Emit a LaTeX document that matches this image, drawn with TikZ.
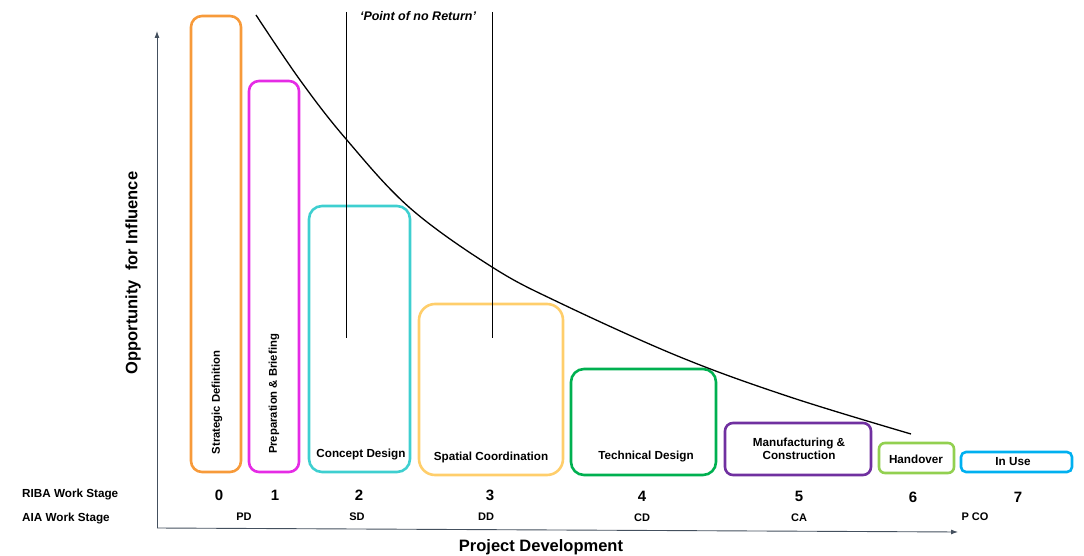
\documentclass[tikz,border=0pt]{standalone}
\usepackage{fontspec}
\setmainfont{Liberation Sans}
\usetikzlibrary{arrows.meta}
\definecolor{cOrange}{HTML}{F79A3A}
\definecolor{cMagenta}{HTML}{E52BE5}
\definecolor{cCyan}{HTML}{3ECFD0}
\definecolor{cYellow}{HTML}{FFCE6B}
\definecolor{cGreen}{HTML}{00B050}
\definecolor{cPurple}{HTML}{7030A0}
\definecolor{cLgreen}{HTML}{92D050}
\definecolor{cBlue}{HTML}{00B0F0}
\definecolor{cAxis}{HTML}{44505E}
\begin{document}
\begin{tikzpicture}[x=1pt,y=-1pt,
  box/.style={draw=#1, line width=2.6pt, inner sep=0pt, fill=none},
  lbl/.style={font=\fontsize{11.7}{13.5}\selectfont\bfseries, inner sep=0pt, align=center},
  rlbl/.style={font=\fontsize{11.3}{13.5}\selectfont\bfseries, inner sep=0pt, rotate=90},
  rowlbl/.style={font=\fontsize{11.7}{13}\selectfont\bfseries, inner sep=0pt, anchor=west},
  small/.style={font=\fontsize{11}{12}\selectfont\bfseries, inner sep=0pt},
  num/.style={font=\fontsize{15}{17}\selectfont\bfseries, inner sep=0pt},
  big/.style={font=\fontsize{16.5}{19}\selectfont\bfseries, inner sep=0pt},
  axis/.style={draw=cAxis, line width=0.9pt},
  vline/.style={draw=black, line width=1pt}]
\useasboundingbox (0,0) rectangle (1084,556);
% boxes
\node[box=cOrange, rounded corners=11pt, minimum width=50pt, minimum height=456pt] (b0) at (216,244) {};
\node[box=cMagenta, rounded corners=10pt, minimum width=50pt, minimum height=391pt] (b1) at (274,276.5) {};
\node[box=cCyan, rounded corners=13pt, minimum width=101pt, minimum height=266pt] (b2) at (359.5,339) {};
\node[box=cYellow, rounded corners=16pt, minimum width=144pt, minimum height=171pt] (b3) at (491,389.5) {};
\node[box=cGreen, rounded corners=13pt, minimum width=145pt, minimum height=106pt] (b4) at (643.5,422) {};
\node[box=cPurple, rounded corners=8pt, minimum width=146pt, minimum height=52pt] (b5) at (798,449) {};
\node[box=cLgreen, rounded corners=6pt, minimum width=75pt, minimum height=30pt] (b6) at (916.5,458) {};
\node[box=cBlue, rounded corners=5pt, minimum width=111pt, minimum height=20pt] (b7) at (1016.5,462) {};
% box labels
\node[rlbl] (t0) at (217,402.5) {Strategic Definition};
\node[rlbl] (t1) at (274,394) {Preparation \& Briefing};
\node[lbl] (t2) at (361,454) {Concept Design};
\node[lbl] (t3) at (491,457) {Spatial Coordination};
\node[lbl] (t4) at (646,456) {Technical Design};
\node[lbl] (t5) at (799,449) {Manufacturing \&\\Construction};
\node[lbl] (t6) at (916,459) {Handover};
\node[lbl] (t7) at (1013,462) {In Use};
% axes
\coordinate (o) at (157,528);
\coordinate (ytop) at (157,31);
\coordinate (xend) at (958,532);
\draw[axis, -{Latex[length=7pt,width=5pt]}] (o) -- (ytop);
\draw[axis, -{Latex[length=7pt,width=5pt]}] (o) -- (xend);
\node[big, rotate=90] (ylab) at (133,273) {Opportunity\ \ for Influence};
\node[big] (xlab) at (541,547) {Project Development};
% point of no return
\coordinate (v1t) at (346,12);
\coordinate (v1b) at (346,338);
\coordinate (v2t) at (492,12);
\coordinate (v2b) at (492,338);
\draw[vline] (v1t) -- (v1b);
\draw[vline] (v2t) -- (v2b);
\node[font=\fontsize{12.5}{14}\selectfont\bfseries\itshape, inner sep=0pt] (pnr) at (418,16.5) {`Point of no Return'};
% curve
\draw[line width=1.3pt, black] plot[smooth, tension=0.6] coordinates {(256,15) (300,80) (346,139) (410,208) (492,267) (560,303) (680,357) (790,397) (911,434)};
% stage rows
\node[rowlbl] (riba) at (22,494) {RIBA Work Stage};
\node[rowlbl] (aia) at (22,518) {AIA Work Stage};
\node[num] (n0) at (219,495) {0};
\node[num] (n1) at (275,495) {1};
\node[num] (n2) at (359,495) {2};
\node[num] (n3) at (490,495) {3};
\node[num] (n4) at (642,496) {4};
\node[num] (n5) at (799,496) {5};
\node[num] (n6) at (913,497) {6};
\node[num] (n7) at (1018,497) {7};
\node[small] (a0) at (244,517) {PD};
\node[small] (a1) at (357,517) {SD};
\node[small] (a2) at (486,517) {DD};
\node[small] (a3) at (642,518) {CD};
\node[small] (a4) at (799,518) {CA};
\node[small] (a5) at (975,517) {P CO};
\end{tikzpicture}
\end{document}
